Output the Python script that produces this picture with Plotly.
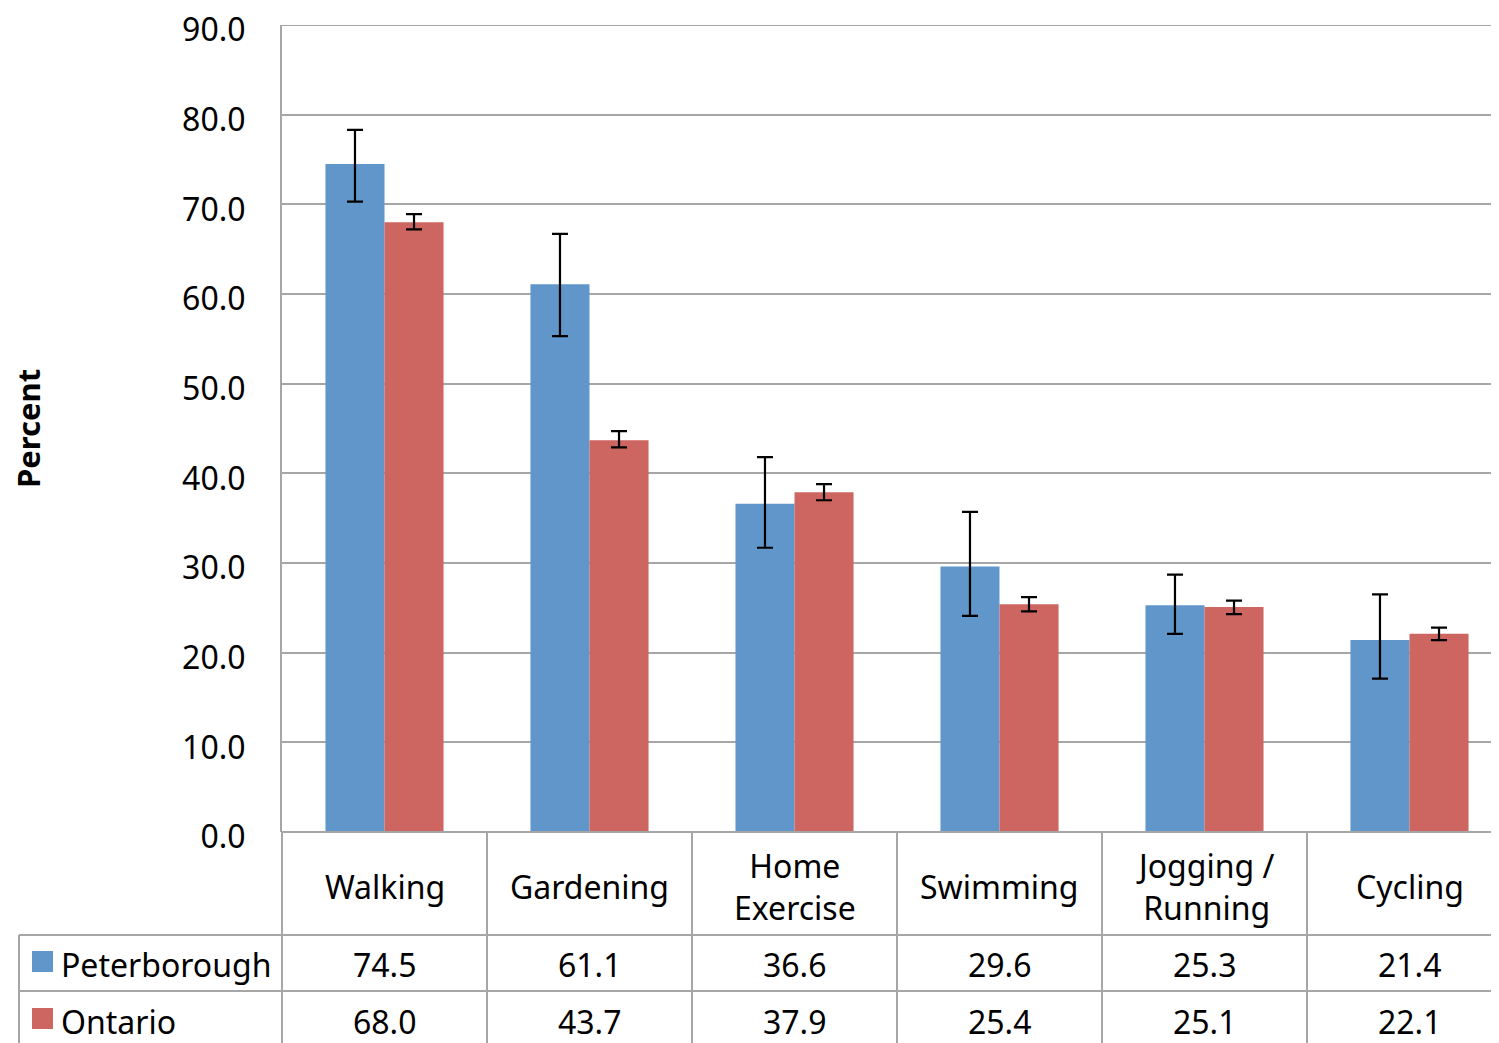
import plotly.graph_objects as go

categories = ["Walking", "Gardening", "Home Exercise", "Swimming", "Jogging / Running", "Cycling"]
category_labels = ["Walking", "Gardening", "Home<br>Exercise", "Swimming", "Jogging /<br>Running", "Cycling"]
series_names = ["Peterborough", "Ontario"]
peterborough = [74.5, 61.1, 36.6, 29.6, 25.3, 21.4]
ontario = [68.0, 43.7, 37.9, 25.4, 25.1, 22.1]
peterborough_upper = [78.3, 66.7, 41.8, 35.7, 28.7, 26.5]
peterborough_lower = [70.3, 55.3, 31.7, 24.1, 22.1, 17.1]
ontario_upper = [68.9, 44.7, 38.8, 26.2, 25.8, 22.8]
ontario_lower = [67.2, 42.9, 37.0, 24.6, 24.3, 21.4]
y_ticks = [0, 10, 20, 30, 40, 50, 60, 70, 80, 90]

BLUE = "#6096C9"
RED = "#CD6560"
GRID = "#A6A6A6"
FONT = "Noto Sans"
FS = 32

# page has an 8px body margin; compensate so the figure fills the window
OFF = 8
W, H = 1499 - OFF, 1043 - OFF
L, R, T, B = 282 - OFF, 0, 25 - OFF, 211
PW, PH = W - L - R, H - T - B


def px_x(px):
    return (px - OFF - L) / PW


def px_y(py):
    return (H - B - (py - OFF)) / PH


fig = go.Figure()
for name, vals, up, lo, col in [
    (series_names[0], peterborough, peterborough_upper, peterborough_lower, BLUE),
    (series_names[1], ontario, ontario_upper, ontario_lower, RED),
]:
    fig.add_trace(go.Bar(
        name=name, x=categories, y=vals, marker=dict(color=col, line=dict(width=0)),
        error_y=dict(type="data", symmetric=False,
                     array=[u - v for u, v in zip(up, vals)],
                     arrayminus=[v - l for v, l in zip(vals, lo)],
                     color="black", thickness=2.2, width=8),
        showlegend=False,
    ))

shapes = []
line = dict(color=GRID, width=2)
# top gridline at the axis maximum
shapes.append(dict(type="line", xref="paper", yref="y", x0=0, x1=1, y0=y_ticks[-1], y1=y_ticks[-1], line=line, layer="below"))
# top border of table
shapes.append(dict(type="line", xref="paper", yref="paper", x0=0, x1=1, y0=0, y1=0, line=line, layer="above"))
# vertical table lines
shapes.append(dict(type="line", xref="paper", yref="paper", x0=0, x1=0, y0=0, y1=px_y(1043), line=line))
for i in range(len(categories) - 1):
    shapes.append(dict(type="line", xref="x", yref="paper", x0=i + 0.5, x1=i + 0.5, y0=0, y1=px_y(1043), line=line))
# row lines
for py in (935, 991):
    shapes.append(dict(type="line", xref="paper", yref="paper", x0=px_x(19), x1=1, y0=px_y(py), y1=px_y(py), line=line))
shapes.append(dict(type="line", xref="paper", yref="paper", x0=px_x(19), x1=px_x(19), y0=px_y(935), y1=px_y(1043), line=line))
# legend keys
for (y0, y1), col in zip([(951, 972), (1008, 1029)], [BLUE, RED]):
    shapes.append(dict(type="rect", xref="paper", yref="paper", x0=px_x(32), x1=px_x(53), y0=px_y(y0), y1=px_y(y1),
                       fillcolor=col, line=dict(width=0)))

annotations = []
txt = dict(family=FONT, size=FS, color="black")
for i, lab in enumerate(category_labels):
    annotations.append(dict(x=i, xref="x", y=px_y(886), yref="paper", text=lab, showarrow=False,
                            font=txt, xanchor="center", yanchor="middle"))
    annotations.append(dict(x=i, xref="x", y=px_y(965), yref="paper", text=f"{peterborough[i]:.1f}", showarrow=False,
                            font=txt, xanchor="center", yanchor="middle"))
    annotations.append(dict(x=i, xref="x", y=px_y(1021), yref="paper", text=f"{ontario[i]:.1f}", showarrow=False,
                            font=txt, xanchor="center", yanchor="middle"))
for name, py in zip(series_names, (965, 1021)):
    annotations.append(dict(x=px_x(59), xref="paper", y=px_y(py), yref="paper", text=name, showarrow=False,
                            font=txt, xanchor="left", yanchor="middle"))
annotations.append(dict(x=px_x(28), xref="paper", y=px_y(429), yref="paper", text="<b>Percent</b>", showarrow=False,
                        textangle=-90, font=dict(family=FONT, size=31, color="black"), xanchor="center", yanchor="middle"))

fig.update_layout(
    width=W, height=H, margin=dict(l=L, r=R, t=T, b=B, pad=0, autoexpand=False),
    paper_bgcolor="white", plot_bgcolor="white",
    barmode="group", bargap=0.424, bargroupgap=0,
    font=dict(family=FONT, size=FS, color="black"),
    xaxis=dict(type="category", range=[-0.5, -0.5 + PW / 205], showticklabels=False, automargin=False,
               showgrid=False, zeroline=False, showline=False, fixedrange=True),
    yaxis=dict(range=[0, 90], tickvals=y_ticks, tickformat=".1f", showgrid=True, gridcolor=GRID, gridwidth=2,
               zeroline=False, showline=True, linecolor=GRID, linewidth=2, automargin=False,
               ticks="outside", ticklen=28, tickcolor="rgba(0,0,0,0)", ticklabeloverflow="allow",
               ticklabelshift=5,
               tickfont=dict(family=FONT, size=FS, color="black")),
    shapes=shapes, annotations=annotations,
)
fig.write_html("out.html")
